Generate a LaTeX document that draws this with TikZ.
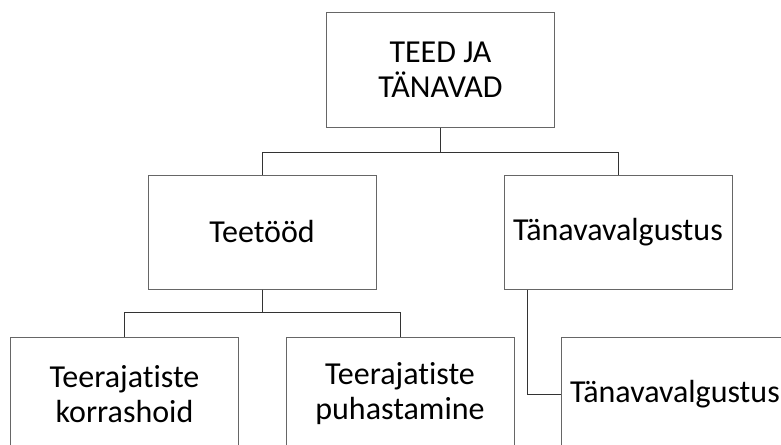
\documentclass[tikz,border=0pt]{standalone}
\usepackage{fontspec}
\setmainfont[Ligatures=NoCommon]{Carlito}
\begin{document}
\begin{tikzpicture}[x=1pt,y=-1pt,
  orgbox/.style={draw=black!60,line width=1pt,fill=white,minimum width=228pt,minimum height=114pt,
    inner sep=0pt,align=center,font=\fontsize{32}{35}\selectfont,text=black},
  conn/.style={draw=black!80,line width=1pt}]
\useasboundingbox (0,0) rectangle (781,444);
\clip (0,0) rectangle (781,444);
\fill[white] (0,0) rectangle (781,444);
\node[orgbox] (top) at (440.5,70) {TEED JA\\TÄNAVAD};
\node[orgbox] (teetood) at (262,232) {Teetööd};
\node[orgbox] (tanava) at (618,232) {Tänavavalgustus};
\node[orgbox] (korr) at (124.5,394) {Teerajatiste\\korrashoid};
\node[orgbox] (puh) at (400,394) {Teerajatiste\\puhastamine};
\node[orgbox] (tan2) at (675,394) {Tänavavalgustus};
\draw[conn] (top.south) -- ++(0,25) -| (teetood.north);
\draw[conn] (top.south) -- ++(0,25) -| (tanava.north);
\draw[conn] (teetood.south) -- ++(0,23) -| (korr.north);
\draw[conn] (teetood.south) -- ++(0,23) -| (puh.north);
\draw[conn] ([xshift=-91pt]tanava.south) |- (tan2.west);
\end{tikzpicture}
\end{document}
